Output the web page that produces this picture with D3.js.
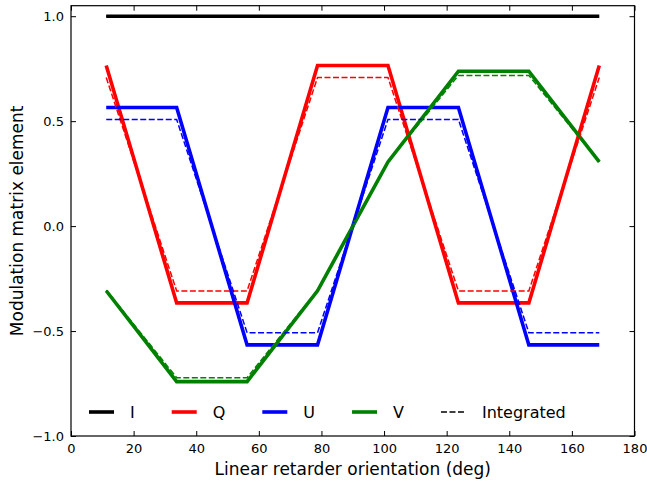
<!DOCTYPE html>
<html>
<head>
<meta charset="utf-8">
<script src="https://cdn.jsdelivr.net/npm/d3@7"></script>
<style>
  body { margin: 0; background: #fff; }
  svg { display: block; font-family: "DejaVu Sans", sans-serif; }
</style>
</head>
<body>
<svg id="chart" width="647" height="485"></svg>
<script>
// ---- data ----
const angles = [11.25, 33.75, 56.25, 78.75, 101.25, 123.75, 146.25, 168.75];
const I_vals = [1, 1, 1, 1, 1, 1, 1, 1];
const Q_vals = [0.765, -0.366, -0.366, 0.765, 0.765, -0.366, -0.366, 0.765];
const U_vals = [0.565, 0.565, -0.566, -0.566, 0.565, 0.565, -0.566, -0.566];
const V_vals = [-0.308, -0.741, -0.741, -0.308, 0.306, 0.738, 0.738, 0.306];
const I_int = [1, 1, 1, 1, 1, 1, 1, 1];
const Q_int = [0.708, -0.309, -0.309, 0.708, 0.708, -0.309, -0.309, 0.708];
const U_int = [0.508, 0.508, -0.508, -0.508, 0.508, 0.508, -0.508, -0.508];
const V_int = [-0.305, -0.722, -0.722, -0.305, 0.305, 0.718, 0.718, 0.305];
const xTicks = [0, 20, 40, 60, 80, 100, 120, 140, 160, 180];
const yTicks = [-1.0, -0.5, 0.0, 0.5, 1.0];
const seriesNames = ["I", "Q", "U", "V"];
const seriesColors = ["#000000", "#ff0000", "#0000ff", "#008000"];
const xLabel = "Linear retarder orientation (deg)";
const yLabel = "Modulation matrix element";
const integratedLabel = "Integrated";

const solid = [I_vals, Q_vals, U_vals, V_vals];
const dashed = [I_int, Q_int, U_int, V_int];

// ---- layout ----
const svg = d3.select("#chart");
const L = 71, R = 634.5, T = 5.7, B = 436;
const x = d3.scaleLinear().domain([0, 180]).range([L, R]);
const y = d3.scaleLinear().domain([-1, 1.05]).range([B, T]);

const line = d3.line().x((d, i) => x(angles[i])).y(d => y(d));

// solid lines
solid.forEach((vals, k) => {
  svg.append("path").datum(vals)
    .attr("d", line)
    .attr("fill", "none")
    .attr("stroke", seriesColors[k])
    .attr("stroke-width", 3.6)
    .attr("stroke-linejoin", "miter");
});
// dashed integrated lines
dashed.forEach((vals, k) => {
  svg.append("path").datum(vals)
    .attr("d", line)
    .attr("fill", "none")
    .attr("stroke", seriesColors[k])
    .attr("stroke-width", 1.5)
    .attr("stroke-dasharray", "6,2.5");
});

// axes (ticks inward on all sides)
const fmt = d => d3.format(".1f")(d).replace("-", "\u2212");
const gB = svg.append("g").attr("transform", `translate(0,${B})`)
  .call(d3.axisBottom(x).tickValues(xTicks).tickSizeInner(-5).tickSizeOuter(0).tickPadding(8).tickFormat(d3.format("d")));
const gT = svg.append("g").attr("transform", `translate(0,${T})`)
  .call(d3.axisTop(x).tickValues(xTicks).tickSizeInner(-5).tickSizeOuter(0).tickFormat(""));
const gL = svg.append("g").attr("transform", `translate(${L},0)`)
  .call(d3.axisLeft(y).tickValues(yTicks).tickSizeInner(-5).tickSizeOuter(0).tickPadding(7).tickFormat(fmt));
const gR = svg.append("g").attr("transform", `translate(${R},0)`)
  .call(d3.axisRight(y).tickValues(yTicks).tickSizeInner(-5).tickSizeOuter(0).tickFormat(""));
[gB, gT, gL, gR].forEach(g => {
  g.select(".domain").remove();
  g.selectAll(".tick line").attr("stroke", "#000").attr("stroke-width", 1);
  g.selectAll("text").attr("font-size", 13).attr("fill", "#000").attr("font-family", "DejaVu Sans");
});
gB.selectAll(".tick text").attr("dy", "0.71em");

// frame
svg.append("rect").attr("x", L).attr("y", T).attr("width", R - L).attr("height", B - T)
  .attr("fill", "none").attr("stroke", "#000").attr("stroke-width", 1.2);

// axis labels
svg.append("text").attr("x", (L + R) / 2).attr("y", 475).attr("text-anchor", "middle")
  .attr("font-size", 17).text(xLabel);
svg.append("text").attr("transform", `translate(23,${(T + B) / 2}) rotate(-90)`)
  .attr("text-anchor", "middle").attr("font-size", 17).text(yLabel);

// legend
const legY = 412;
let lx = 89;
const items = seriesNames.map((n, k) => ({ name: n, color: seriesColors[k], dash: null, w: 3.6 }))
  .concat([{ name: integratedLabel, color: "#000", dash: "6,2.5", w: 1.5 }]);
items.forEach(it => {
  svg.append("line").attr("x1", lx).attr("x2", lx + 25).attr("y1", legY).attr("y2", legY)
    .attr("stroke", it.color).attr("stroke-width", it.w)
    .attr("stroke-dasharray", it.dash);
  const t = svg.append("text").attr("x", lx + 41).attr("y", legY).attr("dy", "0.36em")
    .attr("font-size", 16).text(it.name);
  lx += 41 + t.node().getComputedTextLength() + 37;
});
</script>
</body>
</html>
